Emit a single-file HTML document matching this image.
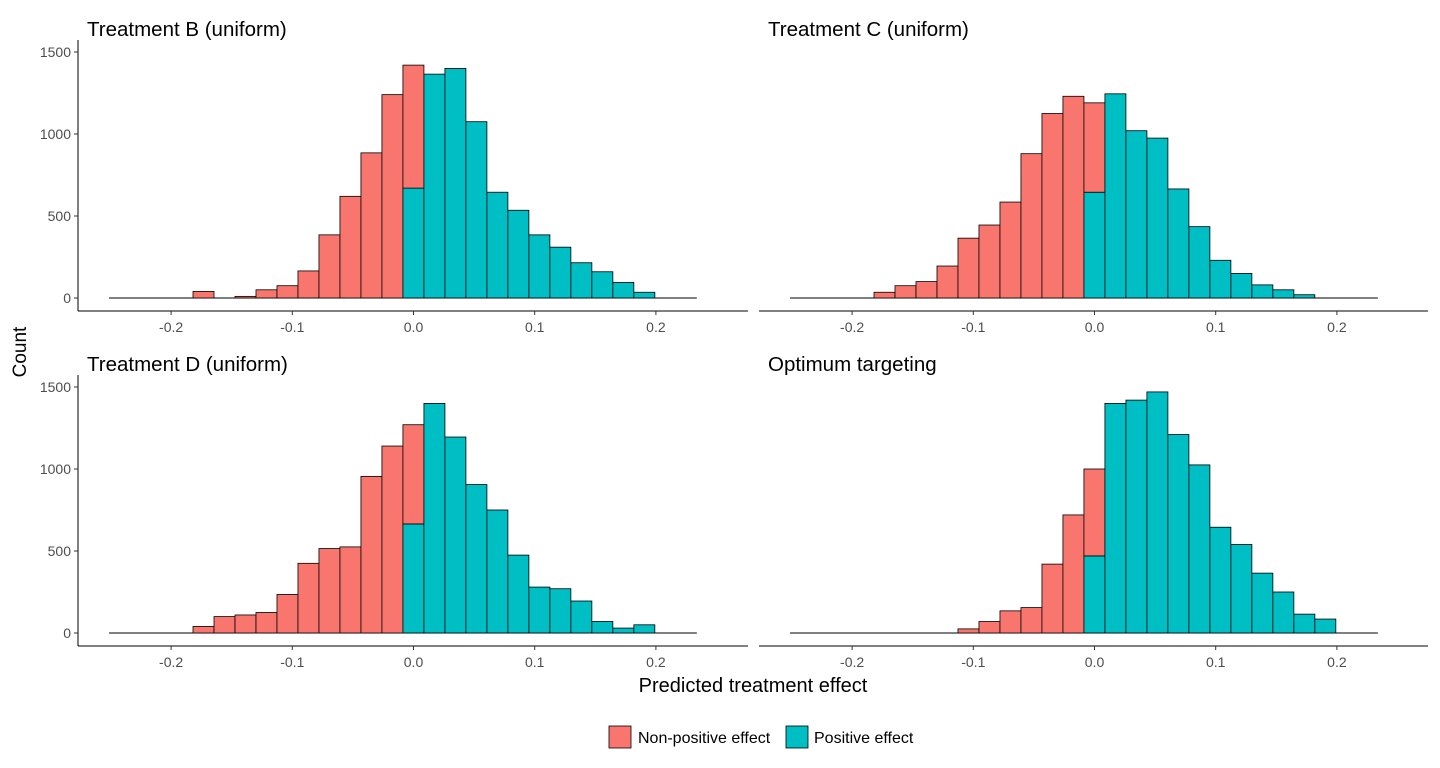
<!DOCTYPE html>
<html><head><meta charset="utf-8"><style>
html,body{margin:0;padding:0;background:#fff;width:1440px;height:768px;overflow:hidden}
svg{font-family:"Liberation Sans",sans-serif;display:block}
</style></head><body>
<svg id="c" width="1440" height="768" style="position:absolute;left:0;top:0">
<text x="26" y="352" transform="rotate(-90 26 352)" text-anchor="middle" font-size="19">Count</text>
<text x="753" y="692" text-anchor="middle" font-size="20">Predicted treatment effect</text>
<g font-size="16">
<rect x="609" y="726" width="22" height="22" fill="#F8766D" stroke="#000" stroke-width="0.8"/>
<text x="638" y="743">Non-positive effect</text>
<rect x="786" y="726" width="22" height="22" fill="#00BFC4" stroke="#000" stroke-width="0.8"/>
<text x="814" y="743">Positive effect</text>
</g>
</svg>
<script>
const binStart = -0.2512;
const binWidth = 0.01732;
const panelTitles = ["Treatment B (uniform)", "Treatment C (uniform)", "Treatment D (uniform)", "Optimum targeting"];
const nonPosB = [0,0,0,0,40,0,10,50,75,165,385,620,885,1240,750,0,0,0,0,0,0,0,0,0,0,0,0,0];
const posB    = [0,0,0,0,0,0,0,0,0,0,0,0,0,0,670,1365,1400,1075,645,535,385,310,215,160,95,35,0,0];
const nonPosC = [0,0,0,0,35,75,100,195,365,445,585,880,1125,1230,545,0,0,0,0,0,0,0,0,0,0,0,0,0];
const posC    = [0,0,0,0,0,0,0,0,0,0,0,0,0,0,645,1245,1020,975,665,435,230,150,80,50,20,0,0,0];
const nonPosD = [0,0,0,0,40,100,110,125,235,425,515,525,955,1140,605,0,0,0,0,0,0,0,0,0,0,0,0,0];
const posD    = [0,0,0,0,0,0,0,0,0,0,0,0,0,0,665,1400,1195,905,750,475,280,270,195,70,30,50,0,0];
const nonPosO = [0,0,0,0,0,0,0,0,25,70,135,155,420,720,530,0,0,0,0,0,0,0,0,0,0,0,0,0];
const posO    = [0,0,0,0,0,0,0,0,0,0,0,0,0,0,470,1400,1420,1470,1210,1025,645,540,365,250,115,85,0,0];
const xTicks = [-0.2,-0.1,0,0.1,0.2];
const xTickLabels = ["-0.2","-0.1","0.0","0.1","0.2"];
const yTicks = [0,500,1000,1500];
const yTickLabels = ["0","500","1000","1500"];

const svg = document.getElementById('c');
const NS = "http://www.w3.org/2000/svg";
function mk(tag, attrs, parent){const e=document.createElementNS(NS,tag);for(const k in attrs)e.setAttribute(k,attrs[k]);(parent||svg).appendChild(e);return e;}

const panels = [
 {neg:nonPosB,pos:posB,zx:413.5,y0:298,axisY:311,left:78,right:748,titleY:36,showY:true},
 {neg:nonPosC,pos:posC,zx:1094.5,y0:298,axisY:311,left:759,right:1428,titleY:36,showY:false},
 {neg:nonPosD,pos:posD,zx:413.5,y0:633,axisY:646,left:78,right:748,titleY:371,showY:true},
 {neg:nonPosO,pos:posO,zx:1094.5,y0:633,axisY:646,left:759,right:1428,titleY:371,showY:false}
];
const xs = 1212, ys = 246/1500;
panels.forEach((p,pi)=>{
  const g = mk('g',{});
  
  
  const X = v=>p.zx+v*xs, Y = c=>p.y0-c*ys;
  const n = p.neg.length;
  const bl = mk('line',{x1:X(binStart),x2:X(binStart+n*binWidth),y1:p.y0,y2:p.y0,stroke:'#000','stroke-width':1},g);
  
  
  for(let i=0;i<n;i++){
    const x1=X(binStart+i*binWidth), x2=X(binStart+(i+1)*binWidth);
    if(p.pos[i]>0){
      const r=mk('rect',{x:x1,y:Y(p.pos[i]),width:x2-x1,height:p.pos[i]*ys,fill:'#00BFC4',stroke:'#000','stroke-width':0.8},g);
      
      
    }
    if(p.neg[i]>0){
      const r=mk('rect',{x:x1,y:Y(p.pos[i]+p.neg[i]),width:x2-x1,height:p.neg[i]*ys,fill:'#F8766D',stroke:'#000','stroke-width':0.8},g);
      
      
    }
  }
  const ax=mk('line',{x1:p.left,x2:p.right,y1:p.axisY,y2:p.axisY,stroke:'#000','stroke-width':1},g);
  
  
  xTicks.forEach((t,k)=>{
    mk('line',{x1:X(t),x2:X(t),y1:p.axisY,y2:p.axisY+4,stroke:'#333'},g);
    const tx=mk('text',{x:X(t),y:p.axisY+21,'text-anchor':'middle','font-size':14,fill:'#4d4d4d'},g);
    tx.textContent=xTickLabels[k];
    
    
  });
  if(p.showY){
    const ay=mk('line',{x1:p.left,x2:p.left,y1:p.y0-258,y2:p.axisY,stroke:'#000'},g);
    
    
    yTicks.forEach((t,k)=>{
      mk('line',{x1:p.left-4,x2:p.left,y1:Y(t),y2:Y(t),stroke:'#333'},g);
      const tx=mk('text',{x:p.left-7,y:Y(t)+5,'text-anchor':'end','font-size':14,fill:'#4d4d4d'},g);
      tx.textContent=yTickLabels[k];
      
      
    });
  }
  const tt=mk('text',{x:p.left+9,y:p.titleY,'font-size':20.5,fill:'#000'},g);
  tt.textContent=panelTitles[pi];
  
  
});
</script>
</body></html>
